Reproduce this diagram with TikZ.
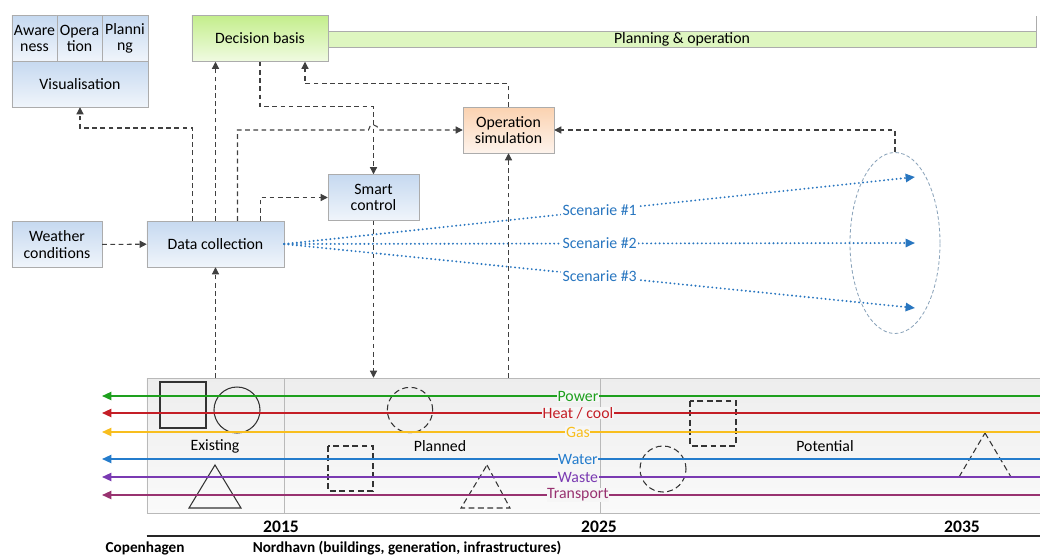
\documentclass[tikz,border=0pt]{standalone}
\usepackage{fontspec}
\setmainfont{Carlito}
\usetikzlibrary{arrows.meta, shapes.geometric, positioning}

\definecolor{boxtop}{RGB}{198,217,240}
\definecolor{boxbot}{RGB}{240,245,251}
\definecolor{greentop}{RGB}{196,238,140}
\definecolor{greenbot}{RGB}{240,251,226}
\definecolor{orangetop}{RGB}{251,210,176}
\definecolor{orangebot}{RGB}{253,243,236}
\definecolor{flowgray}{RGB}{64,64,64}
\definecolor{scenblue}{RGB}{40,118,192}
\definecolor{pwr}{RGB}{30,160,30}
\definecolor{heat}{RGB}{196,30,38}
\definecolor{gas}{RGB}{248,190,30}
\definecolor{water}{RGB}{36,124,204}
\definecolor{waste}{RGB}{122,58,178}
\definecolor{transp}{RGB}{152,50,112}

\begin{document}
\begin{tikzpicture}[
    x=0.03cm, y=-0.03cm,
    font=\fontsize{13.5}{14}\selectfont,
    box/.style={draw=gray!65, rectangle, align=center, inner sep=1pt, minimum height=1.38cm},
    bluebox/.style={box, top color=boxtop, bottom color=boxbot},
    greenbox/.style={box, top color=greentop, bottom color=greenbot},
    orangebox/.style={box, top color=orangetop, bottom color=orangebot},
    flow/.style={draw=flowgray, line width=0.9pt, dash pattern=on 4pt off 3pt, -{Triangle[length=6pt,width=6pt]}},
    scenline/.style={draw=scenblue, line width=1.8pt, line cap=round, dash pattern=on 0pt off 3.6pt, -{Triangle[length=8pt,width=7pt]}},
    scenlabel/.style={pos=0.5, fill=white, inner sep=1pt, text=scenblue},
    infra/.style={line width=1.5pt, -{Triangle[length=8pt,width=7pt]}},
    infralabel/.style={pos=0.4926, fill=gray!7, inner sep=0.5pt},
    solidshape/.style={draw=gray!40!black, line width=0.9pt},
    dashshape/.style={draw=gray!40!black, line width=0.9pt, dash pattern=on 5pt off 3pt},
    year/.style={font=\fontsize{15}{16}\selectfont\bfseries},
    place/.style={font=\fontsize{13}{14}\selectfont\bfseries}
  ]

  \path[fill=white, use as bounding box] (0,0) rectangle (1040,556);

  % visualisation block
  \node[bluebox, minimum width=1.35cm] (aware) at (34.5,38.5) {Aware\\ness};
  \node[bluebox, minimum width=1.35cm] (opera) at (79.5,38.5) {Opera\\tion};
  \node[bluebox, minimum width=1.38cm] (planni) at (125,38.5) {Planni\\ng};
  \node[bluebox, minimum width=4.08cm] (vis) at (80,84) {Visualisation};

  % decision basis and planning bar
  \node[greenbox, minimum width=4.08cm] (db) at (260,38.5) {Decision basis};
  \node[draw=gray!65, fill=greenbot!60!greentop, minimum width=21.24cm, minimum height=0.48cm, inner sep=0pt] (plan) at (682,39) {Planning \& operation};
  \draw[gray!65] (plan.north east) -- ++(0,0.45cm);

  % process boxes
  \node[orangebox, minimum width=2.73cm] (opsim) at (508.5,130) {Operation\\simulation};
  \node[bluebox, minimum width=2.73cm] (smart) at (373.5,197.5) {Smart\\control};
  \node[bluebox, minimum width=2.7cm] (weather) at (57,244.5) {Weather\\conditions};
  \node[bluebox, minimum width=4.11cm] (dc) at (215.5,244) {Data collection};

  % scenario fan
  \node[ellipse, draw=scenblue!45!gray!70, dash pattern=on 3pt off 2pt, line width=0.7pt, minimum width=2.7cm, minimum height=5.43cm] (scen) at (895,243) {};
  \coordinate (s1) at (915,177);
  \coordinate (s2) at (915,243);
  \coordinate (s3) at (915,308);
  \draw[scenline] (dc.east) -- node[scenlabel] {Scenarie \#1} (s1);
  \draw[scenline] (dc.east) -- node[scenlabel] {Scenarie \#2} (s2);
  \draw[scenline] (dc.east) -- node[scenlabel] {Scenarie \#3} (s3);

  % timeline
  \node[draw=gray!55, top color=gray!14, bottom color=gray!4, minimum width=26.79cm, minimum height=4.05cm, inner sep=0pt] (tl) at (593.5,445.5) {};
  \draw[gray!55] (tl.north -| dc.east) -- (tl.south -| dc.east);
  \draw[gray!55] (600,378) -- (600,513);
  \node at (215,446) {Existing};
  \node at (440,446) {Planned};
  \node at (825,446) {Potential};

  % existing, planned and potential assets
  \draw[solidshape] (160,382) rectangle (206,428);
  \draw[solidshape] (237,410) circle[radius=0.69cm];
  \draw[solidshape] (215,465) -- (241,508) -- (189,508) -- cycle;
  \draw[dashshape] (410,410) circle[radius=0.68cm];
  \draw[dashshape] (328,446) rectangle (373,491);
  \draw[dashshape] (487,465) -- (510,508) -- (461,508) -- cycle;
  \draw[dashshape] (690,401) rectangle (736,446);
  \draw[dashshape] (663,469) circle[radius=0.69cm];
  \draw[dashshape] (985,433) -- (1011,477) -- (959,477) -- cycle;

  % infrastructure lines
  \draw[infra, pwr] (1040,396) -- node[infralabel] {Power} (102,396);
  \draw[infra, heat] (1040,413) -- node[infralabel] {Heat / cool} (102,413);
  \draw[infra, gas] (1040,432) -- node[infralabel] {Gas} (102,432);
  \draw[infra, water] (1040,459) -- node[infralabel] {Water} (102,459);
  \draw[infra, waste] (1040,477) -- node[infralabel] {Waste} (102,477);
  \draw[infra, transp] (1040,495) -- node[infralabel] {Transport} (102,495);

  % axis
  \draw[gray!30!black, line width=1pt] (tl.south west |- 0,536) -- (1040,536);
  \node[year] at (281,527) {2015};
  \node[year] at (599,527) {2025};
  \node[year] at (962,527) {2035};
  \node[place] at (145,548) {Copenhagen};
  \node[place] at (407,548) {Nordhavn (buildings, generation, infrastructures)};

  % information flows
  \draw[flow] (weather) -- (dc);
  \draw[flow] ([xshift=-0.68cm]dc.north) |- (vis.south |- 0,128) -- (vis.south);
  \draw[flow] (dc.north) -- (dc.north |- db.south);
  \draw[flow] ([xshift=0.66cm]dc.north) |- ([xshift=-0.15cm]smart.north |- opsim.west)
    arc[start angle=180, end angle=0, radius=0.15cm] -- (opsim.west);
  \draw[flow] ([xshift=1.34cm]dc.north) |- (smart.west);
  \draw[flow] (db.south) -- ++(0,-1.35cm) -| (smart.north);
  \draw[flow] (opsim.north) |- ([xshift=1.35cm,yshift=-0.66cm]db.south) -- ([xshift=1.35cm]db.south);
  \draw[flow] (scen.north) |- (opsim.east);
  \draw[flow] (opsim.south |- tl.north) -- (opsim.south);
  \draw[flow] (smart.south) -- (smart.south |- tl.north);
  \draw[flow] (dc.south |- tl.north) -- (dc.south);

\end{tikzpicture}
\end{document}
